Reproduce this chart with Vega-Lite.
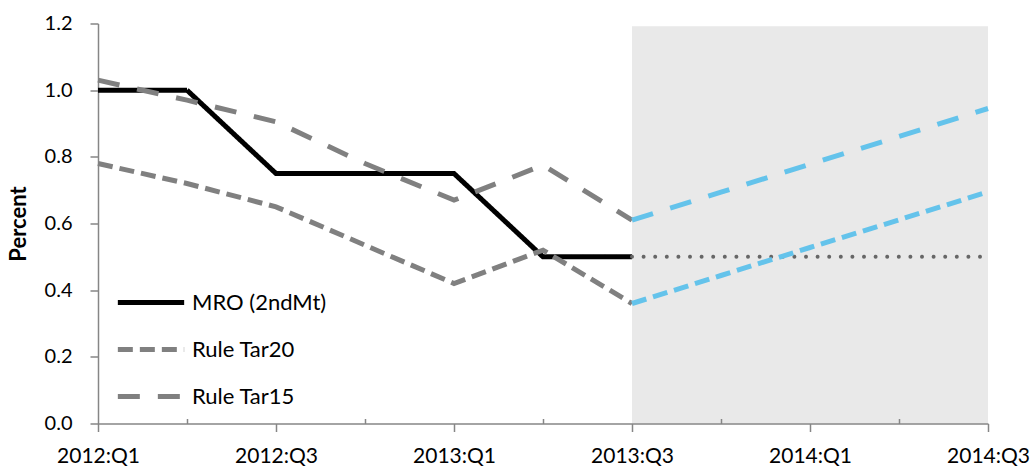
{
  "$schema": "https://vega.github.io/schema/vega-lite/v6.json",
  "width": 890,
  "height": 400,
  "autosize": "none",
  "padding": {"left": 98, "top": 23.5, "right": 48, "bottom": 43.5},
  "background": "white",
  "config": {
    "view": {"stroke": null},
    "font": "Lato",
    "axis": {"labelFont": "Lato", "titleFont": "Lato", "labelColor": "#000000", "titleColor": "#000000", "domainColor": "#868686", "tickColor": "#868686", "domainWidth": 1.5, "tickWidth": 1.5, "grid": false},
    "axisY": {"labelFontSize": 20, "titleFontSize": 22, "titleFontWeight": "bold", "titlePadding": 14, "tickSize": 8, "labelPadding": 18}
  },
  "datasets": {
    "hist": [
      {"q": "2012:Q1", "series": "MRO (2ndMt)", "value": 1.0},
      {"q": "2012:Q2", "series": "MRO (2ndMt)", "value": 1.0},
      {"q": "2012:Q3", "series": "MRO (2ndMt)", "value": 0.75},
      {"q": "2012:Q4", "series": "MRO (2ndMt)", "value": 0.75},
      {"q": "2013:Q1", "series": "MRO (2ndMt)", "value": 0.75},
      {"q": "2013:Q2", "series": "MRO (2ndMt)", "value": 0.5},
      {"q": "2013:Q3", "series": "MRO (2ndMt)", "value": 0.5},
      {"q": "2012:Q1", "series": "Rule Tar20", "value": 0.78},
      {"q": "2012:Q2", "series": "Rule Tar20", "value": 0.72},
      {"q": "2012:Q3", "series": "Rule Tar20", "value": 0.65},
      {"q": "2012:Q4", "series": "Rule Tar20", "value": 0.535},
      {"q": "2013:Q1", "series": "Rule Tar20", "value": 0.42},
      {"q": "2013:Q2", "series": "Rule Tar20", "value": 0.52},
      {"q": "2013:Q3", "series": "Rule Tar20", "value": 0.36},
      {"q": "2012:Q1", "series": "Rule Tar15", "value": 1.03},
      {"q": "2012:Q2", "series": "Rule Tar15", "value": 0.97},
      {"q": "2012:Q3", "series": "Rule Tar15", "value": 0.905},
      {"q": "2012:Q4", "series": "Rule Tar15", "value": 0.78},
      {"q": "2013:Q1", "series": "Rule Tar15", "value": 0.67},
      {"q": "2013:Q2", "series": "Rule Tar15", "value": 0.775},
      {"q": "2013:Q3", "series": "Rule Tar15", "value": 0.61}
    ],
    "proj": [
      {"q": "2013:Q3", "series": "MRO", "value": 0.5},
      {"q": "2013:Q4", "series": "MRO", "value": 0.5},
      {"q": "2014:Q1", "series": "MRO", "value": 0.5},
      {"q": "2014:Q2", "series": "MRO", "value": 0.5},
      {"q": "2014:Q3", "series": "MRO", "value": 0.5},
      {"q": "2013:Q3", "series": "Tar20", "value": 0.36},
      {"q": "2013:Q4", "series": "Tar20", "value": 0.444},
      {"q": "2014:Q1", "series": "Tar20", "value": 0.528},
      {"q": "2014:Q2", "series": "Tar20", "value": 0.611},
      {"q": "2014:Q3", "series": "Tar20", "value": 0.695},
      {"q": "2013:Q3", "series": "Tar15", "value": 0.61},
      {"q": "2013:Q4", "series": "Tar15", "value": 0.694},
      {"q": "2014:Q1", "series": "Tar15", "value": 0.778},
      {"q": "2014:Q2", "series": "Tar15", "value": 0.861},
      {"q": "2014:Q3", "series": "Tar15", "value": 0.945}
    ],
    "shade": [
      {"q": "2013:Q3", "end": "2014:Q3", "value": 0, "top": 1.192}
    ]
  },
  "encoding": {
    "x": {
      "field": "q",
      "type": "ordinal",
      "scale": {"type": "point", "padding": 0, "domain": ["2012:Q1", "2012:Q2", "2012:Q3", "2012:Q4", "2013:Q1", "2013:Q2", "2013:Q3", "2013:Q4", "2014:Q1", "2014:Q2", "2014:Q3"]},
      "axis": {
        "title": null,
        "labelAngle": 0,
        "labelFontSize": 21,
        "labelPadding": 14,
        "labelOverlap": false,
        "labelExpr": "indexof(['2012:Q1','2012:Q3','2013:Q1','2013:Q3','2014:Q1','2014:Q3'], datum.value) >= 0 ? datum.value : ''",
        "tickSize": {"condition": {"test": "indexof(['2012:Q1','2012:Q3','2013:Q1','2013:Q3','2014:Q1','2014:Q3'], datum.value) >= 0", "value": 8}, "value": -5}
      }
    },
    "y": {
      "field": "value",
      "type": "quantitative",
      "scale": {"domain": [0, 1.2], "nice": false, "zero": true},
      "axis": {
        "title": "Percent",
        "values": [0, 0.2, 0.4, 0.6, 0.8, 1.0, 1.2],
        "format": ".1f"
      }
    }
  },
  "layer": [
    {
      "data": {"name": "shade"},
      "mark": {"type": "rect", "fill": "#e9e9e9"},
      "encoding": {
        "x2": {"field": "end"},
        "y2": {"field": "top"}
      }
    },
    {
      "data": {"name": "hist"},
      "mark": {"type": "line", "strokeWidth": 5, "strokeCap": "butt", "strokeJoin": "miter"},
      "encoding": {
        "color": {
          "field": "series",
          "type": "nominal",
          "scale": {"domain": ["MRO (2ndMt)", "Rule Tar20", "Rule Tar15"], "range": ["#000000", "#808080", "#808080"]},
          "legend": {
            "title": null,
            "orient": "none",
            "legendX": 17,
            "legendY": 243,
            "padding": 0,
            "symbolType": "stroke",
            "symbolSize": 4400,
            "symbolStrokeWidth": 5,
            "labelFontSize": 22,
            "labelFont": "Lato",
            "labelColor": "#000000",
            "labelOffset": 5,
            "rowPadding": -20
          }
        },
        "strokeDash": {
          "field": "series",
          "type": "nominal",
          "scale": {"domain": ["MRO (2ndMt)", "Rule Tar20", "Rule Tar15"], "range": [[1, 0], [15, 7], [22, 18]]},
          "legend": null
        }
      }
    },
    {
      "data": {"name": "proj"},
      "transform": [{"filter": "datum.series === 'MRO'"}],
      "mark": {"type": "line", "stroke": "#666666", "strokeWidth": 4, "strokeCap": "round", "strokeDash": [0, 11.6]},
      "encoding": {}
    },
    {
      "data": {"name": "proj"},
      "transform": [{"filter": "datum.series === 'Tar20'"}],
      "mark": {"type": "line", "stroke": "#64c3eb", "strokeWidth": 5, "strokeCap": "butt", "strokeDash": [15, 7]},
      "encoding": {}
    },
    {
      "data": {"name": "proj"},
      "transform": [{"filter": "datum.series === 'Tar15'"}],
      "mark": {"type": "line", "stroke": "#64c3eb", "strokeWidth": 5, "strokeCap": "butt", "strokeDash": [22, 18]},
      "encoding": {}
    }
  ]
}
